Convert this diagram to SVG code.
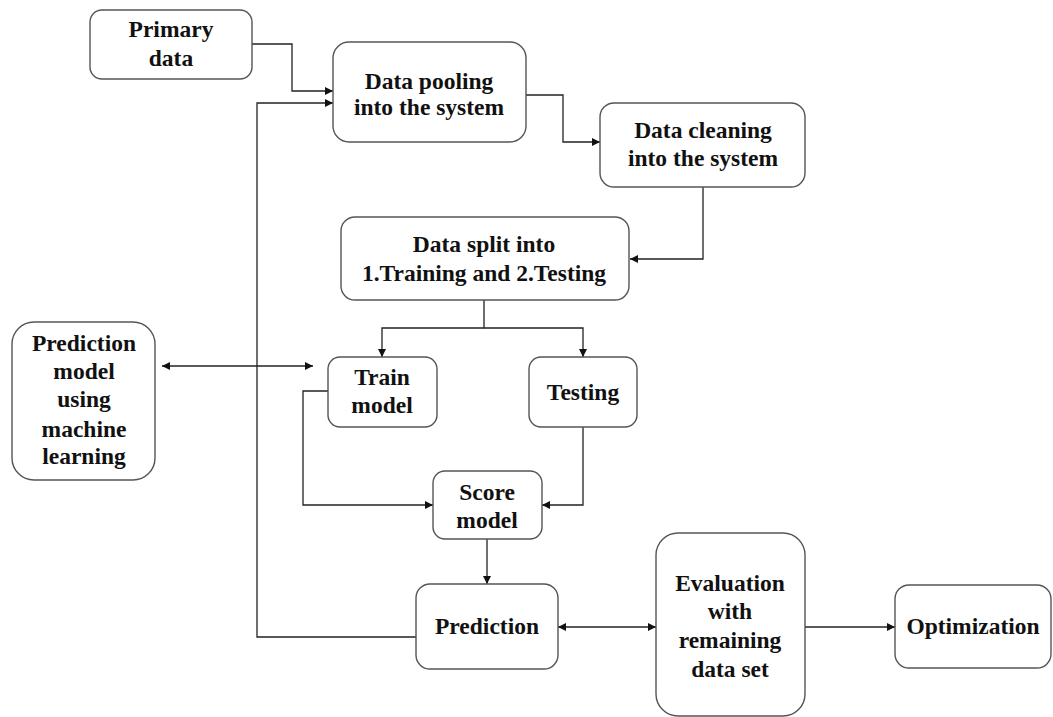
<svg xmlns="http://www.w3.org/2000/svg" width="1053" height="717" viewBox="0 0 1053 717">
<style>
.box{fill:#fff;stroke:#555;stroke-width:1.4}
.t{font-family:"Liberation Serif","Times New Roman",serif;font-weight:bold;font-size:23.5px;fill:#111;text-anchor:middle}
.c{fill:none;stroke:#222;stroke-width:1.3}
</style>
<defs>
<marker id="ah" viewBox="0 0 10 10" refX="10" refY="5" markerWidth="8" markerHeight="8" markerUnits="userSpaceOnUse" orient="auto-start-reverse">
<path d="M0,0 L10,5 L0,10 z" fill="#111"/>
</marker>
</defs>
<rect width="1053" height="717" fill="#fff"/>
<g id="connectors">
<path class="c" d="M252,44 H292 V91 H333" marker-end="url(#ah)"/>
<path class="c" d="M416,637 H257 V103 H333" marker-end="url(#ah)"/>
<path class="c" d="M526,95 H563 V142 H600" marker-end="url(#ah)"/>
<path class="c" d="M703,187 V259 H630" marker-end="url(#ah)"/>
<path class="c" d="M484,300 V328 H382 V357" marker-end="url(#ah)"/>
<path class="c" d="M484,328 H583 V357" marker-end="url(#ah)"/>
<path class="c" d="M162,366 H313" marker-start="url(#ah)" marker-end="url(#ah)"/>
<path class="c" d="M328,391 H303 V505 H433" marker-end="url(#ah)"/>
<path class="c" d="M583,427 V505 H542" marker-end="url(#ah)"/>
<path class="c" d="M487,539 V584" marker-end="url(#ah)"/>
<path class="c" d="M558,627 H656" marker-start="url(#ah)" marker-end="url(#ah)"/>
<path class="c" d="M805,627 H895" marker-end="url(#ah)"/>
</g>
<g id="primary">
<rect class="box" x="90" y="10" width="162" height="69" rx="12"/>
<text class="t" x="171" y="37">Primary</text>
<text class="t" x="171" y="66">data</text>
</g>
<g id="pooling">
<rect class="box" x="333" y="42" width="193" height="100" rx="16"/>
<text class="t" x="429" y="89">Data pooling</text>
<text class="t" x="429" y="115">into the system</text>
</g>
<g id="cleaning">
<rect class="box" x="600" y="103" width="205" height="84" rx="14"/>
<text class="t" x="703" y="138">Data cleaning</text>
<text class="t" x="703" y="166">into the system</text>
</g>
<g id="split">
<rect class="box" x="341" y="217" width="288" height="83" rx="14"/>
<text class="t" x="484" y="252">Data split into</text>
<text class="t" x="484" y="281">1.Training and 2.Testing</text>
</g>
<g id="predmodel">
<rect class="box" x="12" y="322" width="143" height="158" rx="22"/>
<text class="t" x="84" y="351">Prediction</text>
<text class="t" x="84" y="379">model</text>
<text class="t" x="84" y="407">using</text>
<text class="t" x="84" y="437">machine</text>
<text class="t" x="84" y="464">learning</text>
</g>
<g id="train">
<rect class="box" x="328" y="357" width="109" height="70" rx="12"/>
<text class="t" x="382" y="385">Train</text>
<text class="t" x="382" y="413">model</text>
</g>
<g id="testing">
<rect class="box" x="529" y="357" width="108" height="70" rx="12"/>
<text class="t" x="583" y="400">Testing</text>
</g>
<g id="score">
<rect class="box" x="433" y="471" width="109" height="68" rx="12"/>
<text class="t" x="487" y="500">Score</text>
<text class="t" x="487" y="528">model</text>
</g>
<g id="prediction">
<rect class="box" x="416" y="584" width="142" height="85" rx="14"/>
<text class="t" x="487" y="634">Prediction</text>
</g>
<g id="evaluation">
<rect class="box" x="656" y="533" width="149" height="183" rx="22"/>
<text class="t" x="730" y="591">Evaluation</text>
<text class="t" x="730" y="619">with</text>
<text class="t" x="730" y="648">remaining</text>
<text class="t" x="730" y="677">data set</text>
</g>
<g id="optimization">
<rect class="box" x="895" y="585" width="156" height="83" rx="14"/>
<text class="t" x="973" y="634">Optimization</text>
</g>
</svg>
